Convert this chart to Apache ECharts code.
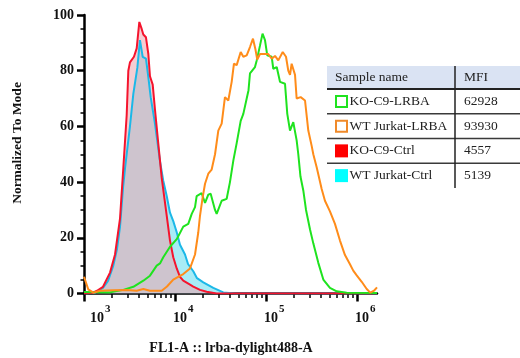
<!DOCTYPE html>
<html><head><meta charset="utf-8">
<script src="https://cdn.jsdelivr.net/npm/echarts@6/dist/echarts.min.js"></script>
<style>html,body{margin:0;padding:0;background:#fff}#c{width:520px;height:358px}</style>
</head><body><div id="c"></div>
<script>
// x values are log10(FL1-A) decades
const koCtrlX = [3.000,3.099,3.143,3.209,3.286,3.341,3.396,3.432,3.469,3.487,3.505,3.549,3.579,3.608,3.634,3.652,3.681,3.707,3.725,3.755,3.780,3.816,3.854,3.909,3.945,3.981,4.019,4.055,4.091,4.165,4.201,4.275,4.348,4.458,6.220];
const koCtrlY = [0,0.3,1,2.4,7.5,14,27,45,64,80,83,85,88,97.5,95,93,92,86,78,75,66,54,41.5,28,19,13,9,6,4.6,3.2,2.5,1.3,0.6,0,0];

const wtCtrlX = [3.000,3.121,3.209,3.264,3.322,3.363,3.396,3.429,3.451,3.505,3.542,3.586,3.615,3.645,3.681,3.707,3.733,3.780,3.835,3.871,3.909,3.945,3.981,4.019,4.055,4.110,4.143,4.201,4.242,4.311,4.421,4.531,4.659,6.220];
const wtCtrlY = [0,0.3,2,4.5,10,16,24,38,45,60,71.7,81,91,85,84.3,77.7,70.5,61,47.5,40.5,35,29,26,22,17.5,14,10.6,8,5.5,4,2,0.4,0,0];

const koLrbaX = [3.000,3.286,3.432,3.542,3.652,3.725,3.799,3.835,3.871,3.945,4.019,4.091,4.146,4.184,4.220,4.238,4.293,4.330,4.366,4.392,4.440,4.458,4.513,4.568,4.604,4.641,4.678,4.722,4.751,4.788,4.808,4.824,4.879,4.898,4.934,4.962,4.989,5.014,5.063,5.080,5.118,5.154,5.209,5.234,5.264,5.300,5.337,5.355,5.379,5.410,5.440,5.484,5.520,5.575,5.630,5.703,5.777,5.887,6.220];
const koLrbaY = [0.5,0.4,1.3,2.4,4.6,6.4,10,10.8,13,16.8,19.5,24,25,28.6,31,35,36,32.5,35.5,35.8,30,28.6,33.3,34,40,47.7,54,62,64.5,70,73,79,81.3,83.7,89,93.3,91,85.5,85,80.7,81.3,76,75.3,64.5,58.5,61.5,55,50,42,37,30,23,18,11,5,2,0.8,0.3,0.2];

const wtLrbaX = [3.000,3.047,3.102,3.176,3.322,3.469,3.579,3.652,3.725,3.854,3.912,3.981,4.091,4.165,4.220,4.256,4.275,4.304,4.330,4.366,4.403,4.440,4.476,4.513,4.549,4.586,4.623,4.648,4.678,4.722,4.751,4.788,4.824,4.857,4.885,4.904,4.934,4.970,5.025,5.063,5.099,5.135,5.184,5.220,5.245,5.264,5.282,5.319,5.337,5.381,5.429,5.465,5.502,5.520,5.557,5.612,5.648,5.703,5.758,5.813,5.868,5.923,5.959,5.997,6.052,6.107,6.146,6.187,6.220];
const wtLrbaY = [6,1.5,0.3,1,1.2,1.3,1,1.6,1,1,2.5,5,7,9,14,22,28,34.5,39.4,43,44.5,50,58.5,61,70.5,69.3,76,82.5,82,86.7,85,85.5,88.5,91.5,87.5,84,86,86,86,84.3,85.3,83.7,86.7,85,80,78.5,82.5,78.5,70,70.5,69.3,58.5,53,50,45.3,37.5,33.3,29.5,25,19,13.8,10.5,8.2,6.5,4.2,1.6,0.3,1,2.2];

const sampleNames = ['KO-C9-LRBA','WT Jurkat-LRBA','KO-C9-Ctrl','WT Jurkat-Ctrl'];
const mfiValues = ['62928','93930','4557','5139'];
const headerLabels = ['Sample name','MFI'];
const decadeTicks = [3,4,5,6];
const yTicks = [0,20,40,60,80,100];
const xTitle = 'FL1-A :: lrba-dylight488-A';
const yTitle = 'Normalized To Mode';

const colGreen = '#1fe31f', colOrange = '#ff8c1a', colRed = '#f5142d', colCyan = '#1cb8e8';
const swatch = [
  {stroke: colGreen, fill: '#fff'},
  {stroke: '#f08a2a', fill: '#fff'},
  {stroke: null, fill: '#ff0000'},
  {stroke: null, fill: '#00ffff'}
];

function pairs(xs, ys){ return xs.map((x,i)=>[x, ys[i]]); }
const minorTicks = [];
decadeTicks.slice(0,-1).forEach(n => { for (let k=2;k<=9;k++) minorTicks.push(n + Math.log10(k)); });

const SERIF = '"Liberation Serif", "DejaVu Serif", serif';
const chart = echarts.init(document.getElementById('c'), null, {renderer:'canvas'});

const gridL = 84, gridR = 143, gridT = 15, gridB = 64.5;

// table graphic
const tX = 327, tW = 193, divX = 455, hdrTop = 66, hdrBot = 89, rowH = 24.75;
const g = [];
g.push({type:'rect', shape:{x:tX, y:hdrTop, width:tW, height:hdrBot-hdrTop}, style:{fill:'#dae3f3'}});
g.push({type:'text', x:335, y:(hdrTop+hdrBot)/2, style:{text:headerLabels[0], font:'13.5px '+SERIF, fill:'#222', textVerticalAlign:'middle'}});
g.push({type:'text', x:464, y:(hdrTop+hdrBot)/2, style:{text:headerLabels[1], font:'13.5px '+SERIF, fill:'#222', textVerticalAlign:'middle'}});
g.push({type:'line', shape:{x1:tX, y1:hdrBot, x2:tX+tW, y2:hdrBot}, style:{stroke:'#222', lineWidth:2}});
sampleNames.forEach((nm,i)=>{
  const top = hdrBot + i*rowH, cy = top + rowH/2;
  const sw = swatch[i];
  if (sw.stroke) g.push({type:'rect', shape:{x:336, y:cy-5.5, width:11, height:11}, style:{fill:sw.fill, stroke:sw.stroke, lineWidth:2}});
  else g.push({type:'rect', shape:{x:335, y:cy-6.5, width:13, height:13}, style:{fill:sw.fill}});
  g.push({type:'text', x:349.5, y:cy, style:{text:nm, font:'13.5px '+SERIF, fill:'#222', textVerticalAlign:'middle'}});
  g.push({type:'text', x:464, y:cy, style:{text:mfiValues[i], font:'13.5px '+SERIF, fill:'#222', textVerticalAlign:'middle'}});
  if (i < sampleNames.length-1) g.push({type:'line', shape:{x1:tX, y1:top+rowH, x2:tX+tW, y2:top+rowH}, style:{stroke:'#3a3a3a', lineWidth:1.5}});
});
g.push({type:'line', shape:{x1:divX, y1:hdrTop, x2:divX, y2:hdrBot+4*rowH}, style:{stroke:'#222', lineWidth:1.5}});
g.push({type:'text', x:231, y:348, style:{text:xTitle, font:'bold 14px '+SERIF, fill:'#111', textAlign:'center', textVerticalAlign:'middle'}});
g.push({type:'text', x:18, y:143, rotation:Math.PI/2, style:{text:yTitle, font:'bold 13.5px '+SERIF, fill:'#111', textAlign:'center', textVerticalAlign:'middle'}});

const option = {
  animation:false,
  backgroundColor:'#fff',
  grid:{left:gridL, right:gridR, top:gridT, bottom:gridB},
  xAxis:[
    {type:'value', min:3, max:6.22, position:'bottom',
     axisLine:{show:true, lineStyle:{color:'#000', width:2.5}},
     axisTick:{show:true, customValues:decadeTicks, length:8, lineStyle:{color:'#000', width:2.5}},
     axisLabel:{show:true, customValues:decadeTicks, align:'left', margin:10,
       formatter:(v)=> (v===decadeTicks[0] ? '{b3|10}' : '{b|10}') + '{s|' + v + '}',
       rich:{
         b:{fontFamily:SERIF, fontWeight:'bold', fontSize:14, color:'#111', lineHeight:30, padding:[0,0,0,-2]},
         b3:{fontFamily:SERIF, fontWeight:'bold', fontSize:14, color:'#111', lineHeight:30, padding:[0,0,0,6]},
         s:{fontFamily:SERIF, fontWeight:'bold', fontSize:11, color:'#111', lineHeight:11, verticalAlign:'top', padding:[0,0,0,1]}
       }},
     splitLine:{show:false}},
    {type:'value', min:3, max:6.22, position:'bottom', gridIndex:0,
     axisLine:{show:false},
     axisTick:{show:true, customValues:minorTicks, length:4.5, lineStyle:{color:'#000', width:1.5}},
     axisLabel:{show:false}, splitLine:{show:false}}
  ],
  yAxis:{type:'value', min:0, max:100, interval:20,
    axisLine:{show:true, lineStyle:{color:'#000', width:2.5}},
    axisTick:{show:true, length:7, lineStyle:{color:'#000', width:2.5}},
    minorTick:{show:true, splitNumber:4, length:3.5, lineStyle:{color:'#000', width:1.5}},
    axisLabel:{margin:10, fontFamily:SERIF, fontWeight:'bold', fontSize:14, color:'#111',
      formatter:(v)=> yTicks.includes(v) ? String(v) : ''},
    splitLine:{show:false}},
  series:[
    {name:'WT Jurkat-Ctrl area', type:'line', data:pairs(wtCtrlX, wtCtrlY), showSymbol:false, symbol:'none',
     lineStyle:{width:0, opacity:0}, areaStyle:{color:'#a8ecf6', opacity:1}, z:1},
    {name:'KO-C9-Ctrl area', type:'line', data:pairs(koCtrlX, koCtrlY), showSymbol:false, symbol:'none',
     lineStyle:{width:0, opacity:0}, areaStyle:{color:'rgb(237,164,173)', opacity:0.55}, z:1},
    {name:sampleNames[3], type:'line', data:pairs(wtCtrlX, wtCtrlY), showSymbol:false, symbol:'none',
     lineStyle:{color:colCyan, width:2}, z:3},
    {name:sampleNames[2], type:'line', data:pairs(koCtrlX, koCtrlY), showSymbol:false, symbol:'none',
     lineStyle:{color:colRed, width:2}, z:3},
    {name:sampleNames[0], type:'line', data:pairs(koLrbaX, koLrbaY), showSymbol:false, symbol:'none',
     lineStyle:{color:colGreen, width:2}, z:4},
    {name:sampleNames[1], type:'line', data:pairs(wtLrbaX, wtLrbaY), showSymbol:false, symbol:'none',
     lineStyle:{color:colOrange, width:2}, z:4}
  ],
  graphic:g
};
chart.setOption(option);
</script></body></html>
